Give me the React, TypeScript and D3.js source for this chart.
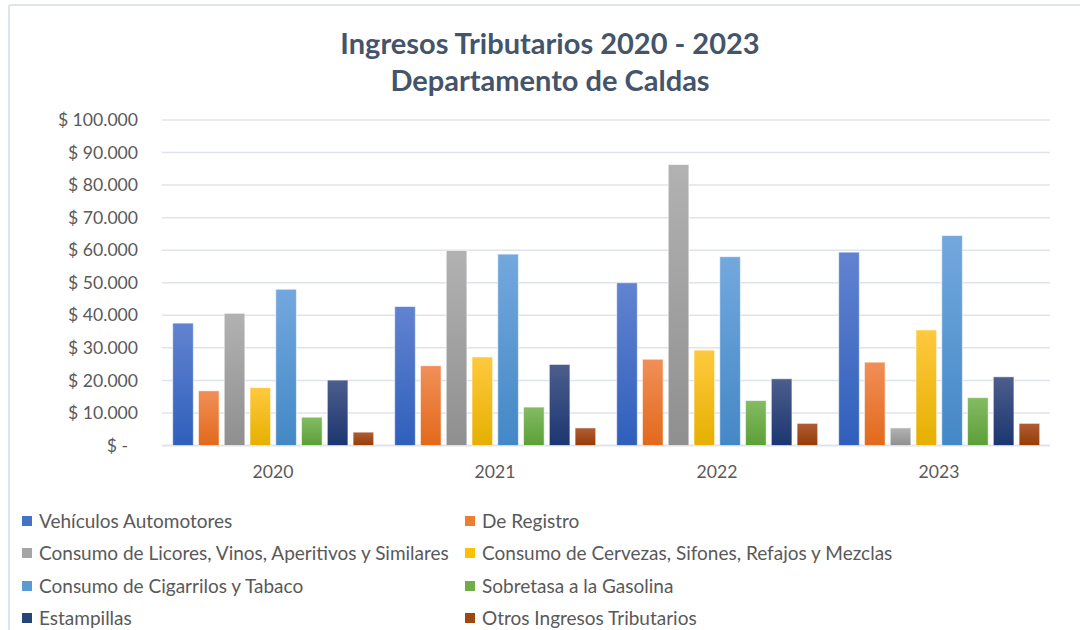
import React from "react";
import * as d3 from "d3";

const years = ["2020", "2021", "2022", "2023"];
const seriesNames = [
  "Vehículos Automotores",
  "De Registro",
  "Consumo de Licores, Vinos, Aperitivos y Similares",
  "Consumo de Cervezas, Sifones, Refajos y Mezclas",
  "Consumo de Cigarrilos y Tabaco",
  "Sobretasa a la Gasolina",
  "Estampillas",
  "Otros Ingresos Tributarios",
];
const vehiculos = [37.6, 42.7, 50.0, 59.4];
const registro = [16.8, 24.5, 26.5, 25.6];
const licores = [40.6, 59.9, 86.3, 5.4];
const cervezas = [17.8, 27.2, 29.3, 35.5];
const cigarrillos = [48.0, 58.8, 58.0, 64.5];
const gasolina = [8.7, 11.8, 13.8, 14.7];
const estampillas = [20.1, 24.9, 20.5, 21.1];
const otros = [4.1, 5.4, 6.8, 6.8];
const seriesValues = [vehiculos, registro, licores, cervezas, cigarrillos, gasolina, estampillas, otros];
const yTicks = [0, 10, 20, 30, 40, 50, 60, 70, 80, 90, 100];
const yTickLabels = ["$ -", "$ 10.000", "$ 20.000", "$ 30.000", "$ 40.000", "$ 50.000", "$ 60.000", "$ 70.000", "$ 80.000", "$ 90.000", "$ 100.000"];

// gradient colors: [top, bottom, legend]
const colors = [
  ["#6283d0", "#2f5fbb", "#4472C4"],
  ["#f18f58", "#e2691c", "#ED7D31"],
  ["#b2b2b2", "#8f8f8f", "#A5A5A5"],
  ["#ffc93f", "#e5b000", "#FFC000"],
  ["#73a8de", "#4388c6", "#5B9BD5"],
  ["#84bb64", "#5d9f38", "#70AD47"],
  ["#4c5e8c", "#1b3670", "#264478"],
  ["#b05d35", "#963c05", "#9E480E"],
];

const FONT = "Lato, 'Open Sans', sans-serif";

export default function App() {
  const left = 162, right = 1050, top = 120, bottom = 445.5;
  const x0 = d3.scaleBand().domain(years).range([left, right]).padding(0);
  const x1 = d3
    .scaleBand()
    .domain(seriesNames)
    .range([10.7, 211.7])
    .paddingInner(0.2)
    .paddingOuter(0);
  const y = d3.scaleLinear().domain([0, 100]).range([bottom, top]);

  const legendRows = [521, 553, 586, 618];
  const legendCols = [22, 465];

  return (
    <div style={{ position: "fixed", left: 0, top: 0, width: 1080, height: 630, background: "#fff" }}>
      <svg width={1080} height={630} style={{ display: "block" }}>
        <defs>
          {colors.map((c, i) => (
            <linearGradient key={i} id={`g${i}`} x1="0" y1="0" x2="0" y2="1">
              <stop offset="0%" stopColor={c[0]} />
              <stop offset="100%" stopColor={c[1]} />
            </linearGradient>
          ))}
        </defs>
        <rect x={0} y={0} width={1080} height={630} fill="#fff" />
        {/* outer chart border (cropped) */}
        <line x1={9} y1={5} x2={1080} y2={5} stroke="#dfe3ea" strokeWidth={2} />
        <line x1={9} y1={5} x2={9} y2={630} stroke="#dfe3ea" strokeWidth={2} />

        <text x={550} y={54} textAnchor="middle" fontFamily={FONT} fontWeight={700} fontSize={29} fill="#44546A">
          Ingresos Tributarios 2020 - 2023
        </text>
        <text x={550} y={91} textAnchor="middle" fontFamily={FONT} fontWeight={700} fontSize={29} fill="#44546A">
          Departamento de Caldas
        </text>

        {yTicks.map((t, i) => (
          <g key={t}>
            <line x1={left} x2={right} y1={y(t)} y2={y(t)} stroke="#dfe3ea" strokeWidth={i === 0 ? 2 : 1.5} />
            <text
              x={t === 0 ? 128 : 138}
              y={y(t)}
              dy="0.35em"
              textAnchor="end"
              fontFamily={FONT}
              fontSize={17.6}
              fill="#595959"
            >
              {yTickLabels[i]}
            </text>
          </g>
        ))}

        {years.map((yr, yi) => (
          <g key={yr} transform={`translate(${x0(yr)},0)`}>
            {seriesNames.map((s, si) => {
              const v = seriesValues[si][yi];
              return (
                <rect
                  key={s}
                  x={x1(s)}
                  y={y(v)}
                  width={x1.bandwidth()}
                  height={y(0) - y(v)}
                  fill={`url(#g${si})`}
                  stroke="#ffffff"
                  strokeOpacity={0.55}
                  strokeWidth={1}
                />
              );
            })}
            <text
              x={x0.bandwidth() / 2}
              y={472}
              dy="0.35em"
              textAnchor="middle"
              fontFamily={FONT}
              fontSize={17.6}
              fill="#595959"
            >
              {yr}
            </text>
          </g>
        ))}

        {seriesNames.map((s, i) => {
          const cx = legendCols[i % 2];
          const cy = legendRows[Math.floor(i / 2)];
          return (
            <g key={s}>
              <rect x={cx} y={cy - 5} width={10} height={10} fill={colors[i][2]} />
              <text x={cx + 17} y={cy} dy="0.35em" fontFamily={FONT} fontSize={19} fill="#595959">
                {s}
              </text>
            </g>
          );
        })}
      </svg>
    </div>
  );
}
